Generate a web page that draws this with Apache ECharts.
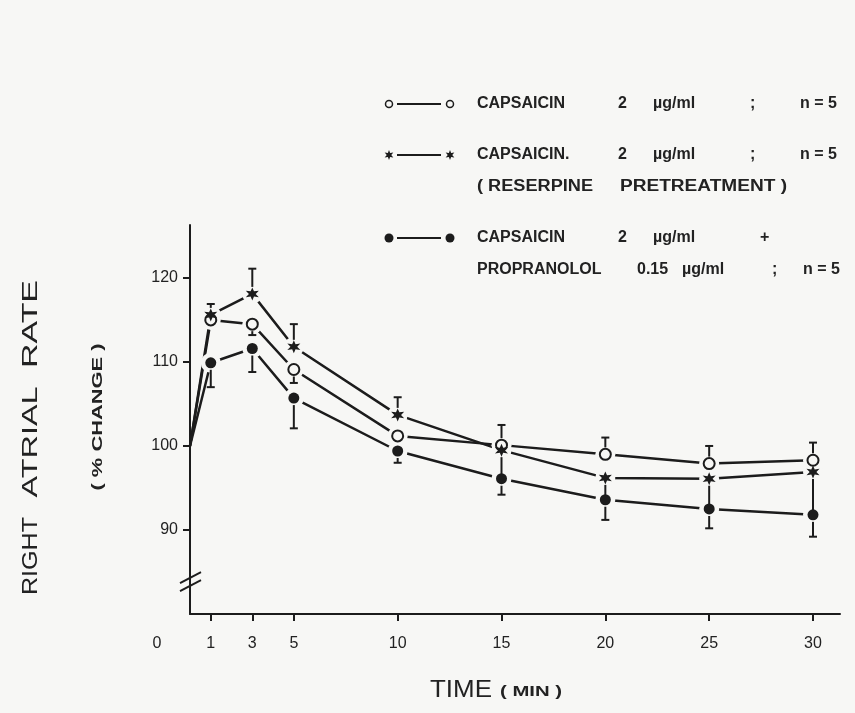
<!DOCTYPE html>
<html><head><meta charset="utf-8">
<script src="https://cdn.jsdelivr.net/npm/echarts@6/dist/echarts.min.js"></script>
<style>html,body{margin:0;padding:0;background:#f7f7f5}#c{width:855px;height:713px}</style>
</head><body><div id="c"></div>
<script>
// ---- data ----
const times = [0, 1, 3, 5, 10, 15, 20, 25, 30];
const xTickValues = [1, 3, 5, 10, 15, 20, 25, 30];
const xLabelValues = [0, 1, 3, 5, 10, 15, 20, 25, 30];
const yTickValues = [90, 100, 110, 120];

const seriesNames = ['CAPSAICIN 2 µg/ml', 'CAPSAICIN 2 µg/ml (RESERPINE)', 'CAPSAICIN + PROPRANOLOL'];

const capsaicin        = [100, 115.0, 114.5, 109.1, 101.2, 100.1, 99.0, 97.9, 98.3];
const capsaicinErrUp   = [0, 0, 0, 0, 0, 2.4, 2.0, 2.1, 2.1];
const capsaicinErrDown = [0, 0, 1.3, 1.6, 0, 0, 0, 0, 0];

const reserpine        = [100, 115.6, 118.1, 111.8, 103.7, 99.5, 96.2, 96.1, 96.9];
const reserpineErrUp   = [0, 1.3, 3.0, 2.7, 2.1, 0, 0, 0, 0];
const reserpineErrDown = [0, 0, 0, 0, 0, 3.3, 2.6, 3.6, 5.1];

const propranolol        = [100, 109.9, 111.6, 105.7, 99.4, 96.1, 93.6, 92.5, 91.8];
const propranololErrUp   = [0, 0, 0, 0, 0, 0, 0, 0, 0];
const propranololErrDown = [0, 2.9, 2.8, 3.6, 1.4, 1.9, 2.4, 2.3, 2.6];

const legendRows = [
  [['CAPSAICIN', '2', 'µg/ml', ';', 'n = 5']],
  [['CAPSAICIN.', '2', 'µg/ml', ';', 'n = 5'], ['( RESERPINE', 'PRETREATMENT )']],
  [['CAPSAICIN', '2', 'µg/ml', '+'], ['PROPRANOLOL', '0.15', 'µg/ml', ';', 'n = 5']]
];
const yTitleWords = ['RIGHT', 'ATRIAL', 'RATE'];
const ySubTitle = '( % CHANGE )';
const xTitle = 'TIME';
const xSubTitle = '( MIN )';

// ---- styles ----
const BG = '#f7f7f5', INK = '#1c1c1c';
const FONT = 'Liberation Sans';

function starPoints(cx, cy, R, ratio) {
  const p = [];
  for (let i = 0; i < 12; i++) {
    const a = Math.PI / 6 * i - Math.PI / 2;
    const r = i % 2 ? R * ratio : R;
    p.push([cx + r * Math.cos(a), cy + r * Math.sin(a)]);
  }
  return p;
}
const STAR = 'path://M' + starPoints(50, 50, 50, 0.45).map(q => q[0].toFixed(1) + ',' + q[1].toFixed(1)).join('L') + 'Z';

const pts = (vals) => times.map((t, i) => [t, vals[i]]);
const markerPts = (vals) => times.map((t, i) => [t, vals[i]]).filter(p => p[0] > 0);
const errPts = (vals, up, down) => times.map((t, i) => [t, vals[i], up[i], down[i]]).filter(p => p[2] > 0 || p[3] > 0);

function errRender(params, api) {
  const t = api.value(0), y = api.value(1), up = api.value(2), dn = api.value(3);
  const c = api.coord([t, y]);
  const children = [];
  const gap = 7, cap = 4;
  const style = { stroke: INK, lineWidth: 2 };
  if (up > 0) {
    const e = api.coord([t, y + up]);
    children.push({ type: 'line', shape: { x1: c[0], y1: c[1] - gap, x2: c[0], y2: e[1] }, style });
    children.push({ type: 'line', shape: { x1: c[0] - cap, y1: e[1], x2: c[0] + cap, y2: e[1] }, style });
  }
  if (dn > 0) {
    const e = api.coord([t, y - dn]);
    children.push({ type: 'line', shape: { x1: c[0], y1: c[1] + gap, x2: c[0], y2: e[1] }, style });
    children.push({ type: 'line', shape: { x1: c[0] - cap, y1: e[1], x2: c[0] + cap, y2: e[1] }, style });
  }
  return { type: 'group', children };
}
function haloRender(params, api) {
  const c = api.coord([api.value(0), api.value(1)]);
  return { type: 'circle', shape: { cx: c[0], cy: c[1], r: 10 }, style: { fill: BG } };
}

const lineSeries = (name, vals) => ({
  name, type: 'line', data: pts(vals), symbol: 'none', z: 2, silent: true,
  lineStyle: { color: INK, width: 2.5 }, animation: false
});
const haloSeries = (vals) => ({
  type: 'custom', data: markerPts(vals), renderItem: haloRender, z: 3, silent: true, animation: false
});
const errSeries = (vals, up, dn) => ({
  type: 'custom', data: errPts(vals, up, dn), renderItem: errRender, z: 4, silent: true, animation: false
});

const chart = echarts.init(document.getElementById('c'));
chart.setOption({
  backgroundColor: BG,
  animation: false,
  grid: { left: 190, top: 225, width: 650, height: 389, outerBoundsMode: 'none' },
  xAxis: {
    type: 'value', min: 0, max: 31.3,
    axisLine: { show: true, lineStyle: { color: INK, width: 2 } },
    axisTick: { show: true, customValues: xTickValues, length: 7, lineStyle: { color: INK, width: 2 } },
    axisLabel: {
      customValues: xLabelValues, margin: 22, color: '#222', fontFamily: FONT, fontSize: 16,
      formatter: v => v === 0 ? '{z|0}' : String(v),
      rich: { z: { padding: [0, 66, 0, 0], fontFamily: FONT, fontSize: 16, color: '#222' } }
    },
    splitLine: { show: false }
  },
  yAxis: {
    type: 'value', min: 80, max: 126.3,
    axisLine: { show: true, lineStyle: { color: INK, width: 2 } },
    axisTick: { show: true, customValues: yTickValues, length: 7, lineStyle: { color: INK, width: 2 } },
    axisLabel: { customValues: yTickValues, margin: 12, color: '#222', fontFamily: FONT, fontSize: 16 },
    splitLine: { show: false }
  },
  series: [
    lineSeries(seriesNames[0], capsaicin),
    lineSeries(seriesNames[1], reserpine),
    lineSeries(seriesNames[2], propranolol),
    haloSeries(capsaicin), haloSeries(reserpine), haloSeries(propranolol),
    errSeries(capsaicin, capsaicinErrUp, capsaicinErrDown),
    errSeries(reserpine, reserpineErrUp, reserpineErrDown),
    errSeries(propranolol, propranololErrUp, propranololErrDown),
    { type: 'scatter', data: markerPts(capsaicin), symbol: 'circle', symbolSize: 11, z: 5, silent: true,
      itemStyle: { color: BG, borderColor: INK, borderWidth: 2, opacity: 1 } },
    { type: 'scatter', data: markerPts(reserpine), symbol: STAR, symbolSize: 13, z: 5, silent: true,
      itemStyle: { color: INK, opacity: 1 } },
    { type: 'scatter', data: markerPts(propranolol), symbol: 'circle', symbolSize: 11, z: 5, silent: true,
      itemStyle: { color: INK, opacity: 1 } }
  ]
});

// ---- decorations: legend, titles, axis break ----
const mctx = document.createElement('canvas').getContext('2d');
const fontStr = (size, weight) => (weight || 'normal') + ' ' + size + 'px "' + FONT + '"';
const g = [];
const txt = (text, x, y, size, opts = {}) => {
  const font = fontStr(size, opts.weight);
  let sx = 1;
  if (opts.width) { mctx.font = font; sx = opts.width / mctx.measureText(text).width; }
  return {
    type: 'text', x, y, rotation: opts.rotation || 0, scaleX: sx,
    style: { text, fill: '#222', font, align: opts.align || 'left', verticalAlign: 'middle' }
  };
};
const rowY = [[104], [155, 187], [238, 270]];
const colX = {
  0: [[477, 618, 653, 750, 800]],
  1: [[477, 618, 653, 750, 800], [477, 620]],
  2: [[477, 618, 653, 760], [477, 637, 682, 772, 803]]
};
const colW = { 1: [null, [116, 167]] };
legendRows.forEach((row, r) => {
  row.forEach((pieces, li) => {
    pieces.forEach((p, k) => {
      const w = colW[r] && colW[r][li] ? colW[r][li][k] : undefined;
      g.push(txt(p, colX[r][li][k], rowY[r][li], 16, { weight: 'bold', width: w }));
    });
  });
  const y = rowY[r][0];
  g.push({ type: 'line', shape: { x1: 397, y1: y, x2: 441, y2: y }, style: { stroke: INK, lineWidth: 2 } });
  [389, 450].forEach(cx => {
    if (r === 0) g.push({ type: 'circle', shape: { cx, cy: y, r: 3.5 }, style: { fill: BG, stroke: INK, lineWidth: 1.5 } });
    if (r === 1) g.push({ type: 'polygon', shape: { points: starPoints(cx, y, 5, 0.45) }, style: { fill: INK } });
    if (r === 2) g.push({ type: 'circle', shape: { cx, cy: y, r: 4.5 }, style: { fill: INK } });
  });
});
// y title words: centre (along the axis) and length
const yWordCentres = [556, 442, 324], yWordLens = [78, 111, 88];
yTitleWords.forEach((w, i) => g.push(txt(w, 31, yWordCentres[i], 22, { rotation: Math.PI / 2, align: 'center', width: yWordLens[i] })));
g.push(txt(ySubTitle, 98, 417, 15, { rotation: Math.PI / 2, align: 'center', weight: 'bold', width: 147 }));
g.push(txt(xTitle, 461, 691, 23, { align: 'center', width: 62 }));
g.push(txt(xSubTitle, 531, 692, 14, { align: 'center', weight: 'bold', width: 62 }));

const bp = chart.convertToPixel({ gridIndex: 0 }, [0, 83.8]);
[-4, 4].forEach(d => g.push({ type: 'line',
  shape: { x1: bp[0] - 10, y1: bp[1] + d + 5, x2: bp[0] + 11, y2: bp[1] + d - 6 },
  style: { stroke: INK, lineWidth: 2 } }));

chart.setOption({ graphic: g });
</script></body></html>
